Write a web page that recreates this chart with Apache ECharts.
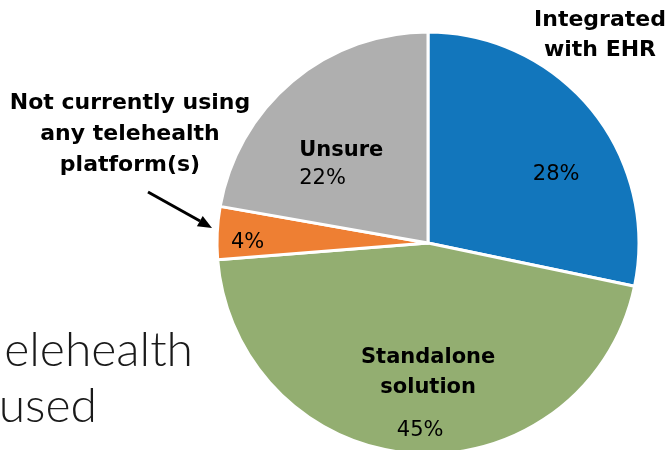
<!DOCTYPE html>
<html>
<head>
<meta charset="utf-8">
<script src="https://cdn.jsdelivr.net/npm/echarts@6/dist/echarts.min.js"></script>
<style>
  html, body { margin: 0; padding: 0; background: #fff; }
  #chart { width: 670px; height: 450px; }
</style>
</head>
<body>
<div id="chart"></div>
<script>
// 数据
var categories = ['Integrated with EHR', 'Standalone solution', 'Not currently using any telehealth platform(s)', 'Unsure'];
var values = [28, 45, 4, 22];
var colors = ['#1276BC', '#93AE71', '#EE7F33', '#AFAFAF'];

var FONT = 'DejaVu Sans';

var myChart = echarts.init(document.getElementById('chart'));

// 每块标签的偏移 (Excel 手动摆放的位置)
var labelCfg = [
  { formatter: '{v|{c}%}', offset: [44, 0] },
  { formatter: '{n|Standalone}\n{n|solution}\n{v2|{c}%}', offset: [7, 49] },
  { formatter: '{v|{c}%}', offset: [-72, 5] },
  { formatter: '{n|Unsure}\n{v|{c}%}', offset: [-17, 4], align: 'left' }
];

var option = {
  animation: false,
  graphic: [
    // 背景幻灯片文字 (被截断)
    { type: 'text', right: 670 - 193, top: 327, style: { text: 'elehealth', font: '300 48px Lato', fill: '#1a1a1a' } },
    { type: 'text', right: 670 - 97, top: 383, style: { text: 'used', font: '300 48px Lato', fill: '#1a1a1a' } },
    // 外部类别名
    { type: 'text', x: 600, y: 35, style: { text: 'Integrated\nwith EHR', font: 'bold 22px ' + FONT, fill: '#000', align: 'center', verticalAlign: 'middle', lineHeight: 30 } },
    { type: 'text', x: 130, y: 134, style: { text: 'Not currently using\nany telehealth\nplatform(s)', font: 'bold 22px ' + FONT, fill: '#000', align: 'center', verticalAlign: 'middle', lineHeight: 31 } },
    // 箭头
    { type: 'line', shape: { x1: 148, y1: 192, x2: 200, y2: 221 }, style: { stroke: '#000', lineWidth: 3 } },
    { type: 'polygon', shape: { points: [[212, 228], [196.9, 226.3], [202.7, 215.9]] }, style: { fill: '#000' } }
  ],
  series: [
    {
      type: 'pie',
      center: [428, 243],
      radius: [0, 211],
      startAngle: 90,
      clockwise: true,
      silent: true,
      itemStyle: { borderColor: '#fff', borderWidth: 3 },
      labelLine: { show: false },
      data: values.map(function (v, i) {
        var al = labelCfg[i].align || 'center';
        return {
          name: categories[i],
          value: v,
          itemStyle: { color: colors[i] },
          label: {
            show: true,
            position: 'inside',
            formatter: labelCfg[i].formatter,
            offset: labelCfg[i].offset,
            align: al,
            rich: {
              n: { fontFamily: FONT, fontWeight: 'bold', fontSize: 21, color: '#000', lineHeight: 30, align: al },
              v: { fontFamily: FONT, fontSize: 21, color: '#000', lineHeight: 26, align: al },
              v2: { fontFamily: FONT, fontSize: 21, color: '#000', lineHeight: 56, align: 'center', padding: [0, 16, 0, 0] }
            }
          }
        };
      })
    }
  ]
};

myChart.setOption(option);
</script>
</body>
</html>
